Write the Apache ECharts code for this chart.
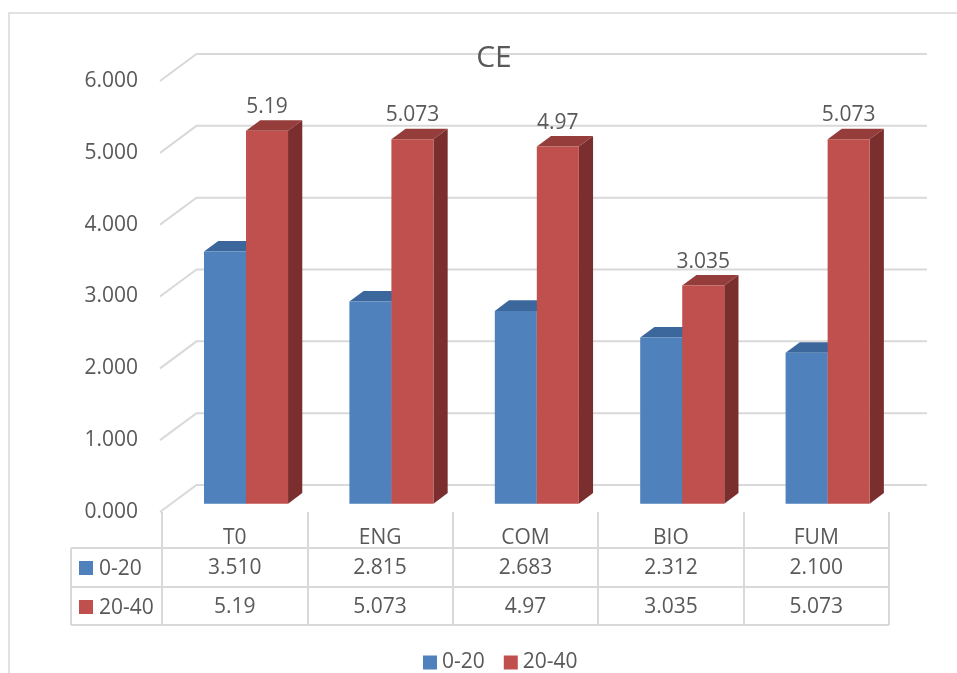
<!DOCTYPE html>
<html>
<head>
<meta charset="utf-8">
<script src="https://cdn.jsdelivr.net/npm/echarts@6/dist/echarts.min.js"></script>
<style>
html,body{margin:0;padding:0;background:#fff;}
#main{width:957px;height:673px;}
</style>
</head>
<body>
<div id="main"></div>
<script>
// ---- data ----
const categories = ['T0', 'ENG', 'COM', 'BIO', 'FUM'];
const seriesNames = ['0-20', '20-40'];
const values0020 = [3.510, 2.815, 2.683, 2.312, 2.100];
const values2040 = [5.19, 5.073, 4.97, 3.035, 5.073];
const yTicks = [0, 1, 2, 3, 4, 5, 6];
const titleText = 'CE';

// ---- style constants ----
const FONT = 'Open Sans';
const TXT = '#595959';
const LINE = '#d9d9d9';
const BLUE = { front: '#4F81BD', top: '#3C679C', side: '#375E8E' };
const RED = { front: '#C0504D', top: '#943D3B', side: '#7A2E2D' };
const DEPTH_X = 36.5, DEPTH_Y = 27;      // floor depth vector
const BAR_FRONT = 0.31, BAR_BACK = 0.70;  // bar depth range (fraction)
const BAR_W = 0.289;                      // bar width as fraction of band
const ROW_Y = [23, 56, 95];               // table row centres below plot floor

const chart = echarts.init(document.getElementById('main'), null, { renderer: 'canvas' });

function fmtRow(seriesIdx, v) {
  return seriesIdx === 0 ? v.toFixed(3) : String(v);
}

function barRender(seriesIdx, colors) {
  return function (params, api) {
    const ci = api.value(0), v = api.value(1);
    const base = api.coord([ci, 0]);
    const top = api.coord([ci, v]);
    const band = api.size([1, 0])[0];
    const bw = band * BAR_W;
    const dx0 = DEPTH_X * BAR_FRONT, dy0 = DEPTH_Y * BAR_FRONT;
    const bdx = DEPTH_X * (BAR_BACK - BAR_FRONT), bdy = DEPTH_Y * (BAR_BACK - BAR_FRONT);
    const left = base[0] - bw + seriesIdx * bw + dx0;
    const y0 = base[1] - dy0, y1 = top[1] - dy0;
    const cs = params.coordSys;
    const floorY = cs.y + cs.height;
    const children = [
      { type: 'polygon', shape: { points: [[left + bw, y1], [left + bw + bdx, y1 - bdy], [left + bw + bdx, y0 - bdy], [left + bw, y0]] },
        style: { fill: colors.side } },
      { type: 'polygon', shape: { points: [[left, y1], [left + bw, y1], [left + bw + bdx, y1 - bdy], [left + bdx, y1 - bdy]] },
        style: { fill: colors.top } },
      { type: 'rect', shape: { x: left, y: y1, width: bw, height: y0 - y1 }, style: { fill: colors.front } },
      // table cell
      { type: 'text', style: { text: fmtRow(seriesIdx, v), x: base[0], y: floorY + ROW_Y[seriesIdx + 1],
          align: 'center', verticalAlign: 'middle', fill: TXT, fontSize: 21, fontFamily: FONT } }
    ];
    if (seriesIdx === 1) {
      children.push({ type: 'text', style: { text: String(v), x: left + bw / 2, y: y1 - 24,
        align: 'center', verticalAlign: 'middle', fill: TXT, fontSize: 21, fontFamily: FONT } });
    }
    return { type: 'group', children: children };
  };
}

function gridRender(params, api) {
  const v = api.value(1);
  const y = api.coord([0, v])[1];
  const cs = params.coordSys;
  const x0 = cs.x - 2;
  return {
    type: 'polyline',
    shape: { points: [[x0, y], [x0 + DEPTH_X, y - DEPTH_Y], [cs.x + cs.width + 38, y - DEPTH_Y]] },
    style: { stroke: LINE, lineWidth: 2, fill: null }
  };
}

const option = {
  backgroundColor: '#fff',
  animation: false,
  title: {
    text: titleText, left: 489, top: 38, textAlign: 'center',
    textStyle: { fontFamily: FONT, fontSize: 30, fontWeight: 'normal', color: TXT }
  },
  legend: {
    data: seriesNames, left: 418, top: 647, icon: 'rect', itemWidth: 14, itemHeight: 14, itemGap: 19,
    textStyle: { fontFamily: FONT, fontSize: 21, color: TXT }
  },
  grid: { left: 162, right: 68, top: 81, bottom: 161, containLabel: false },
  xAxis: {
    type: 'category', data: categories,
    axisLine: { show: false },
    axisTick: { show: true, length: 113, lineStyle: { color: LINE, width: 2 } },
    axisLabel: { fontFamily: FONT, fontSize: 21, color: TXT, margin: 16 },
    splitLine: { show: false }
  },
  yAxis: {
    type: 'value', min: 0, max: 6, interval: 1,
    axisLine: { show: false }, axisTick: { show: false }, splitLine: { show: false },
    axisLabel: { fontFamily: FONT, fontSize: 21, color: TXT, margin: 24, formatter: v => v.toFixed(3) }
  },
  graphic: [
    { type: 'rect', shape: { x: 9, y: 13, width: 1000, height: 700 }, style: { fill: null, stroke: LINE, lineWidth: 1.5 }, z: 0 },
    { type: 'line', shape: { x1: 71, y1: 548, x2: 889, y2: 548 }, style: { stroke: LINE, lineWidth: 2 } },
    { type: 'line', shape: { x1: 71, y1: 587, x2: 889, y2: 587 }, style: { stroke: LINE, lineWidth: 2 } },
    { type: 'line', shape: { x1: 71, y1: 625, x2: 889, y2: 625 }, style: { stroke: LINE, lineWidth: 2 } },
    { type: 'line', shape: { x1: 71, y1: 548, x2: 71, y2: 625 }, style: { stroke: LINE, lineWidth: 2 } },
    { type: 'rect', shape: { x: 79, y: 561, width: 14, height: 14 }, style: { fill: BLUE.front } },
    { type: 'text', style: { text: seriesNames[0], x: 99, y: 569, verticalAlign: 'middle', fill: TXT, fontSize: 21, fontFamily: FONT } },
    { type: 'rect', shape: { x: 79, y: 600, width: 14, height: 14 }, style: { fill: RED.front } },
    { type: 'text', style: { text: seriesNames[1], x: 99, y: 608, verticalAlign: 'middle', fill: TXT, fontSize: 21, fontFamily: FONT } }
  ],
  series: [
    { type: 'custom', name: 'grid', renderItem: gridRender, data: yTicks.map(v => [0, v]), z: 1, silent: true },
    { type: 'custom', name: seriesNames[0], renderItem: barRender(0, BLUE), itemStyle: { color: BLUE.front },
      data: values0020.map((v, i) => [i, v]), z: 2, clip: false },
    { type: 'custom', name: seriesNames[1], renderItem: barRender(1, RED), itemStyle: { color: RED.front },
      data: values2040.map((v, i) => [i, v]), z: 3, clip: false }
  ]
};
chart.setOption(option);
</script>
</body>
</html>
